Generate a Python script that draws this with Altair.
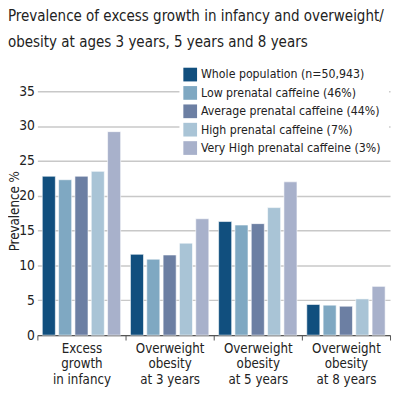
import altair as alt
import pandas as pd

categories = ["Excess|growth|in infancy", "Overweight|obesity|at 3 years",
              "Overweight|obesity|at 5 years", "Overweight|obesity|at 8 years"]
series = ["Whole population (n=50,943)", "Low prenatal caffeine (46%)",
          "Average prenatal caffeine  (44%)", "High prenatal caffeine  (7%)",
          "Very High prenatal caffeine  (3%)"]
colors = ["#114f7e", "#7fa8c2", "#6c7fa3", "#a9c4d6", "#a8b1cb"]
values = [
    [22.8, 11.6, 16.3, 4.4],
    [22.3, 10.9, 15.8, 4.3],
    [22.8, 11.5, 16.0, 4.15],
    [23.5, 13.2, 18.3, 5.2],
    [29.2, 16.7, 22.0, 7.0],
]

rows = []
for si, s in enumerate(series):
    for ci, c in enumerate(categories):
        rows.append({"cat": c, "series": s, "order": si, "value": values[si][ci]})
df = pd.DataFrame(rows)

FONT = "DejaVu Sans Condensed"

chart = alt.Chart(df).mark_bar(stroke="white", strokeWidth=0.6).encode(
    x=alt.X("cat:N", sort=categories,
            scale=alt.Scale(paddingInner=0, paddingOuter=0),
            axis=alt.Axis(title=None, labelAngle=0,
                          labelExpr="split(datum.label, '|')",
                          labelFont=FONT, labelFontSize=13.5, labelColor="#222",
                          labelLineHeight=15.5, labelPadding=2,
                          tickBand="extent", tickSize=5, tickColor="#555",
                          domainColor="#555", domainWidth=1.2, grid=False)),
    xOffset=alt.XOffset("series:N", sort=series,
                        scale=alt.Scale(paddingInner=0.2, paddingOuter=0.3)),
    y=alt.Y("value:Q", scale=alt.Scale(domain=[0, 35], nice=False),
            axis=alt.Axis(title="Prevalence %", values=[0, 5, 10, 15, 20, 25, 30, 35],
                          titleFont=FONT, titleFontSize=13.5, titleFontWeight="normal",
                          titleColor="#222", titleX=-16, titleY=122,
                          labelFont=FONT, labelFontSize=14, labelColor="#222",
                          labelPadding=3, ticks=False, domain=False,
                          gridColor="#c8c8c8", gridWidth=1.5)),
    color=alt.Color("series:N", sort=series,
                    scale=alt.Scale(domain=series, range=colors),
                    legend=alt.Legend(title=None, orient="none", legendX=145, legendY=-28,
                                      symbolType="square", symbolSize=196,
                                      symbolStrokeWidth=0, symbolOpacity=1,
                                      labelFont=FONT, labelFontSize=12.5, labelColor="#222",
                                      rowPadding=4.75, fillColor="white", padding=4,
                                      labelLimit=300)),
).properties(
    width=360, height=249,
    padding={"left": 30, "top": 81, "right": 2, "bottom": 50},
    autosize=alt.AutoSizeParams(type="none"),
    title=alt.TitleParams(
        text=["Prevalence of excess growth in infancy and overweight/",
              "obesity at ages 3 years, 5 years and 8 years"],
        anchor="start", frame="group", dx=-30, offset=14,
        font=FONT, fontSize=15.3, fontWeight="normal", color="#222",
        lineHeight=26),
).configure_view(stroke=None)

chart.save("out.html", embed_options={"renderer": "svg", "actions": False})
